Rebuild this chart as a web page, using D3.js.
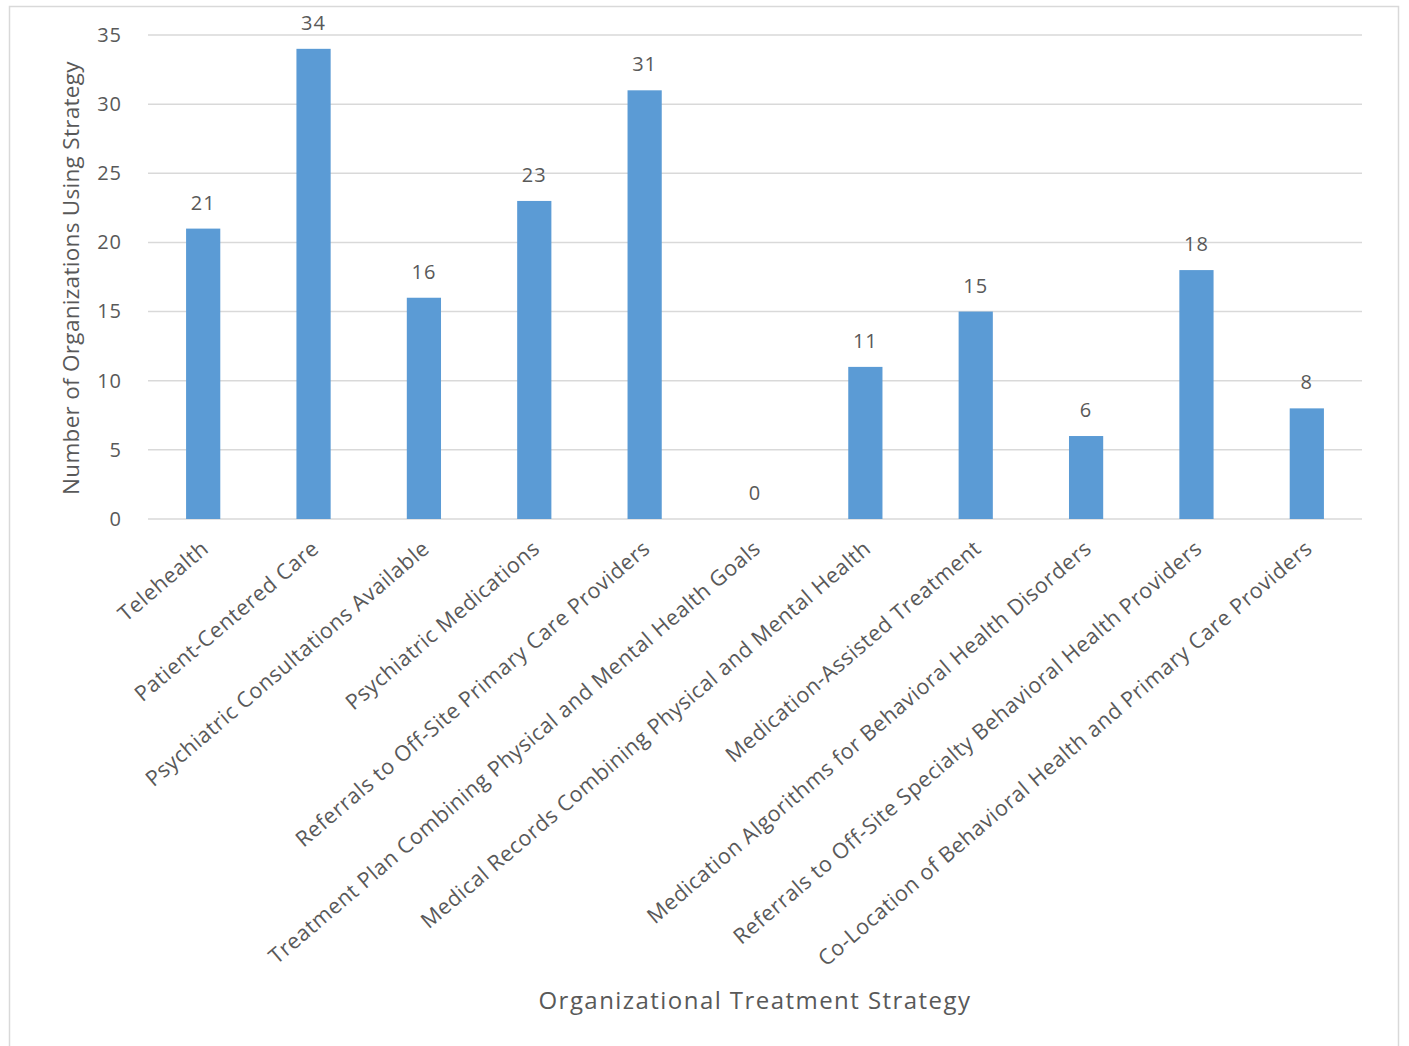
<!DOCTYPE html>
<html>
<head>
<meta charset="utf-8">
<script src="https://cdn.jsdelivr.net/npm/d3@7"></script>
<style>
  body { margin: 0; background: #fff; }
  text { font-family: "Open Sans", sans-serif; fill: #595959; }
</style>
</head>
<body>
<svg id="chart" width="1409" height="1046"></svg>
<script>
// chart data
let categories = [
    "Telehealth",
    "Patient-Centered Care",
    "Psychiatric Consultations Available",
    "Psychiatric Medications",
    "Referrals to Off-Site Primary Care Providers",
    "Treatment Plan Combining Physical and Mental Health Goals",
    "Medical Records Combining Physical and Mental Health",
    "Medication-Assisted Treatment",
    "Medication Algorithms for Behavioral Health Disorders",
    "Referrals to Off-Site Specialty Behavioral Health Providers",
    "Co-Location of Behavioral Health and Primary Care Providers"
];
let counts = [21, 34, 16, 23, 31, 0, 11, 15, 6, 18, 8];
let y_ticks = [0, 5, 10, 15, 20, 25, 30, 35];

let bar_color = '#5b9bd5';
let grid_color = '#d9d9d9';

let svg = d3.select("#chart");

// outer chart border
svg.append("rect")
    .attr("x", 9.5).attr("y", 6.5)
    .attr("width", 1389).attr("height", 1050)
    .attr("fill", "none")
    .attr("stroke", "#d9d9d9")
    .attr("stroke-width", 1.5);

let plot_left = 148, plot_right = 1362, plot_top = 35, plot_bottom = 519;

let x = d3.scaleBand().domain(categories).range([plot_left, plot_right]).paddingInner(0.69).paddingOuter(0.345);
let y = d3.scaleLinear().domain([0, 35]).range([plot_bottom, plot_top]);

// gridlines
svg.append("g")
    .selectAll("line")
    .data(y_ticks)
    .join("line")
    .attr("x1", plot_left).attr("x2", plot_right)
    .attr("y1", d => y(d)).attr("y2", d => y(d))
    .attr("stroke", grid_color)
    .attr("stroke-width", 1.5);

// y axis labels (no domain line)
let y_axis = d3.axisLeft(y).tickValues(y_ticks).tickSize(0).tickPadding(26);
let y_axis_g = svg.append("g")
    .attr("transform", "translate(" + plot_left + ",0)")
    .call(y_axis);
y_axis_g.select(".domain").remove();
y_axis_g.selectAll("text")
    .style("font-size", "20px")
    .style("letter-spacing", "1px")
    .style("font-family", "'Open Sans', sans-serif")
    .attr("fill", "#595959");

// bars
svg.append("g")
    .selectAll("rect")
    .data(counts)
    .join("rect")
    .attr("x", (d, i) => x(categories[i]))
    .attr("y", d => y(d))
    .attr("width", x.bandwidth())
    .attr("height", d => y(0) - y(d))
    .attr("fill", bar_color);

// value labels
svg.append("g")
    .selectAll("text")
    .data(counts)
    .join("text")
    .attr("x", (d, i) => x(categories[i]) + x.bandwidth() / 2)
    .attr("y", d => y(d) - 19)
    .attr("text-anchor", "middle")
    .style("font-size", "20px")
    .style("letter-spacing", "1px")
    .text(d => d);

// category labels, rotated
let x_axis = d3.axisBottom(x).tickSize(0).tickPadding(0);
let x_axis_g = svg.append("g")
    .attr("transform", "translate(0," + plot_bottom + ")")
    .call(x_axis);
x_axis_g.select(".domain").remove();
x_axis_g.selectAll("text")
    .style("font-size", "21.5px")
    .style("letter-spacing", "0.55px")
    .style("font-family", "'Open Sans', sans-serif")
    .attr("fill", "#595959")
    .attr("text-anchor", "end")
    .attr("dy", "0.35em")
    .attr("transform", "translate(2,26) rotate(-40.5)");

// axis titles
svg.append("text")
    .attr("transform", "translate(79,278) rotate(-90)")
    .attr("text-anchor", "middle")
    .style("font-size", "22.5px")
    .style("letter-spacing", "0.3px")
    .text("Number of Organizations Using Strategy");

svg.append("text")
    .attr("x", 755)
    .attr("y", 1009)
    .attr("text-anchor", "middle")
    .style("font-size", "24px")
    .style("letter-spacing", "1.45px")
    .text("Organizational Treatment Strategy");
</script>
</body>
</html>
